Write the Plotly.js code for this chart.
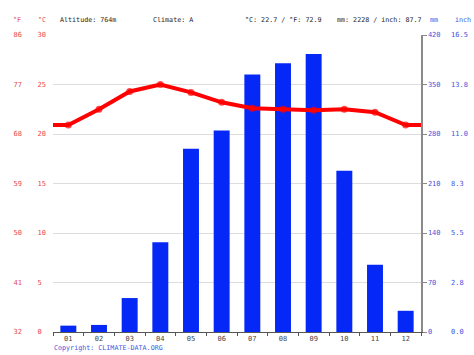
<!DOCTYPE html>
<html>
<head>
<meta charset="utf-8">
<script src="https://cdn.plot.ly/plotly-3.0.1.min.js"></script>
<style>html,body{margin:0;padding:0;background:#fff;}#chart{width:474px;height:355px;}</style>
</head>
<body>
<div id="chart"></div>
<script>
// ---- data ----
const months = ["01","02","03","04","05","06","07","08","09","10","11","12"];
const precipMm = [9, 10, 48, 127, 259, 285, 364, 380, 393, 228, 95, 30];
const tempC = [20.9, 22.5, 24.3, 25.0, 24.2, 23.2, 22.6, 22.5, 22.4, 22.5, 22.2, 20.9];
const tickC = [0, 5, 10, 15, 20, 25, 30];
const tickF = [32, 41, 50, 59, 68, 77, 86];
const tickMm = [0, 70, 140, 210, 280, 350, 420];
const headerTexts = ["Altitude: 764m", "Climate: A", "°C: 22.7 / °F: 72.9", "mm: 2228 / inch: 87.7"];

const W = 474, H = 355;
const px = v => v / W;
const py = v => 1 - v / H;

const FONT = "DejaVu Sans Mono";
const RED = "#e6484e";
const BLUE = "#4255dc";
const GREY = "#444";
const TICK = 7;

// line extended flat to the plot edges
const idx = months.map((m, i) => i);
const lineX = [-0.5].concat(idx, [idx.length - 0.5]);
const lineY = [tempC[0]].concat(tempC, [tempC[tempC.length - 1]]);
const markerSizes = [0].concat(tempC.map(() => 7), [0]);

const traces = [
  { type: "bar", x: months, y: precipMm, xaxis: "x", yaxis: "y",
    marker: { color: "#0628f6", line: { width: 0 } }, width: 0.52, hoverinfo: "skip", showlegend: false },
  { type: "scatter", mode: "lines+markers", x: lineX, y: lineY, xaxis: "x2", yaxis: "y2",
    line: { color: "#ff0000", width: 4 },
    marker: { color: "#ff0000", size: markerSizes, line: { width: 0 } },
    hoverinfo: "skip", showlegend: false },
  { type: "scatter", mode: "markers", x: [0], y: [null], xaxis: "x2", yaxis: "y3",
    hoverinfo: "skip", showlegend: false },
  { type: "scatter", mode: "markers", x: [0], y: [null], xaxis: "x2", yaxis: "y4",
    hoverinfo: "skip", showlegend: false }
];

const xDom = [px(53), px(421)];
const yDom = [23 / H, 1 - 35 / H];

const annotations = [];
const addText = (text, x, y, color) => annotations.push({
  text: text, xref: "paper", yref: "paper", x: px(x), y: py(y),
  xanchor: "left", yanchor: "middle", showarrow: false,
  font: { family: FONT, size: 6.7, color: color }
});
addText("°F", 11, 20, RED);
addText("°C", 36, 20, RED);
addText(headerTexts[0], 58, 20, "#222");
addText(headerTexts[1], 151, 20, "#222");
addText(headerTexts[2], 243, 20, "#222");
addText(headerTexts[3], 335, 20, "#222");
addText("mm", 428, 20, BLUE);
addText("inch", 453, 20, BLUE);
addText("Copyright: CLIMATE-DATA.ORG", 52, 348, BLUE);

const layout = {
  width: W, height: H,
  margin: { l: 0, r: 0, t: 0, b: 0, pad: 0 },
  paper_bgcolor: "#fff", plot_bgcolor: "#fff",
  showlegend: false,
  font: { family: FONT, size: TICK },
  xaxis: { type: "category", domain: xDom, anchor: "y", range: [-0.5, 11.5],
    tickson: "boundaries", ticks: "outside", ticklen: 3, tickcolor: "#555",
    showline: true, linecolor: "#555", linewidth: 1, showgrid: false, zeroline: false,
    tickfont: { family: FONT, size: TICK, color: GREY }, fixedrange: true },
  xaxis2: { domain: xDom, overlaying: "x", range: [-0.5, 11.5], visible: false, fixedrange: true },
  yaxis: { domain: yDom, anchor: "x", side: "right", range: [0, 420],
    tickmode: "array", tickvals: tickMm, ticktext: tickMm.map(String),
    showgrid: true, gridcolor: "#dddddd", gridwidth: 1, zeroline: false,
    showline: true, linecolor: "#8a8a8a", linewidth: 1.5,
    ticks: "outside", ticklen: 4, tickcolor: "#8a8a8a",
    tickfont: { family: FONT, size: TICK, color: BLUE }, fixedrange: true },
  yaxis2: { domain: yDom, overlaying: "y", anchor: "x", side: "left", range: [0, 30],
    tickmode: "array", tickvals: tickC,
    ticktext: tickC.map(v => v < 10 ? v + "\u00a0" : String(v)),
    ticklabelstandoff: 6,
    showgrid: false, zeroline: false, showline: false, ticks: "",
    tickfont: { family: FONT, size: TICK, color: RED }, fixedrange: true },
  yaxis3: { domain: yDom, overlaying: "y", anchor: "free", position: px(22), side: "left",
    range: [32, 86], tickmode: "array", tickvals: tickF, ticktext: tickF.map(String),
    showgrid: false, zeroline: false, showline: false, ticks: "",
    tickfont: { family: FONT, size: TICK, color: RED }, fixedrange: true },
  yaxis4: { domain: yDom, overlaying: "y", anchor: "free", position: px(450), side: "right",
    range: [0, 420 / 25.4], tickmode: "array", tickvals: tickMm.map(v => v / 25.4),
    ticktext: tickMm.map(v => (v / 25.4).toFixed(1)),
    showgrid: false, zeroline: false, showline: false, ticks: "",
    tickfont: { family: FONT, size: TICK, color: BLUE }, fixedrange: true },
  annotations: annotations
};

Plotly.newPlot("chart", traces, layout, { staticPlot: true, displayModeBar: false });
</script>
</body>
</html>
